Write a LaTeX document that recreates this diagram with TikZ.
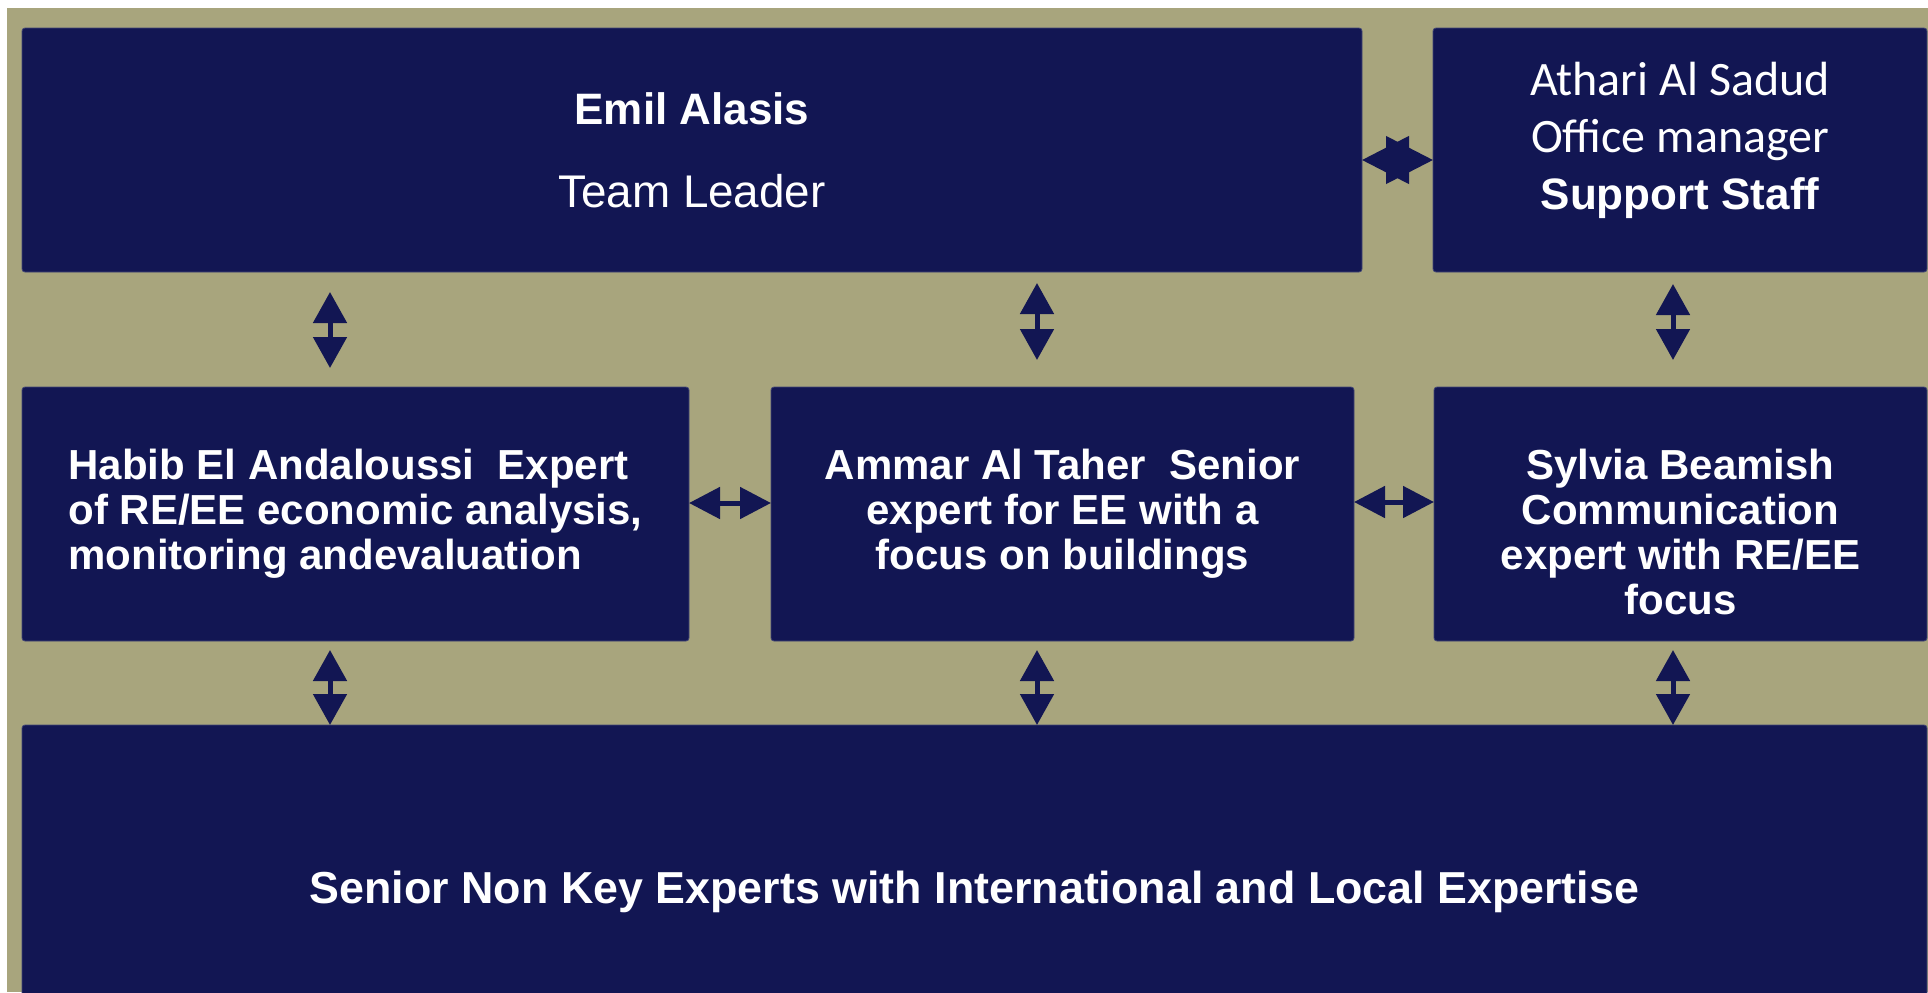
\documentclass[tikz,border=0pt]{standalone}
\usepackage{fontspec}
\setmainfont{Liberation Sans}
\newfontfamily\calibfont{Carlito}
\usetikzlibrary{arrows.meta,positioning}

\definecolor{boxblue}{RGB}{18,22,83}
\definecolor{bgolive}{RGB}{168,165,125}

\tikzset{
	box/.style={fill=boxblue, draw=boxblue!80!white, line width=0.4pt, rounded corners=1.5pt, inner sep=0pt, outer sep=0pt},
	txt/.style={text=white, align=center, inner sep=0pt, font=\fontsize{21}{22.5}\selectfont\bfseries},
	vlink/.style={boxblue, line width=2.5pt, {Triangle[length=15.5pt,width=16.5pt]}-{Triangle[length=15.5pt,width=16.5pt]}},
	hlink/.style={boxblue, line width=2.5pt, {Triangle[length=15.5pt,width=15.5pt]}-{Triangle[length=15.5pt,width=15.5pt]}},
	starlink/.style={boxblue, line width=2.5pt, {Triangle[length=23.5pt,width=23.5pt]}-{Triangle[length=23.5pt,width=23.5pt]}}
}

\begin{document}
\begin{tikzpicture}[x=0.5pt, y=-0.5pt]
	\useasboundingbox (0,0) rectangle (1928,992);
	\fill[bgolive] (7,8) rectangle (1928,992);

	% boxes
	\node[box, minimum width=670pt, minimum height=122pt] (lead) at (692,150) {};
	\node[box, minimum width=247pt, minimum height=122pt] (staff) at (1680,150) {};
	\node[box, minimum width=333.5pt, minimum height=127pt] (habib) at (355.5,514) {};
	\node[box, minimum width=291.5pt, minimum height=127pt] (ammar) at (1062.5,514) {};
	\node[box, minimum width=246.5pt, minimum height=127pt] (sylvia) at (1680.5,514) {};
	\node[box, minimum width=952.5pt, minimum height=140pt] (senior) at (974.5,865) {};

	% texts
	\node[txt, font=\fontsize{22}{41.5}\selectfont] (leadtxt) at (lead.center) {\textbf{Emil Alasis}\\\fontsize{22.9}{41.5}\selectfont Team Leader};
	\node[txt, font=\fontsize{24}{28.5}\selectfont] (stafftxt) at ([yshift=4.75pt]staff.center) {\calibfont Athari Al Sadud\\\calibfont Office manager\\\fontsize{22}{27.5}\selectfont\bfseries Support Staff};
	\node[txt, align=left] (habibtxt) at (habib.center) {Habib El Andaloussi\ \ Expert\\of RE/EE economic analysis,\\monitoring andevaluation};
	\node[txt] (ammartxt) at (ammar.center) {Ammar Al Taher\ \ Senior\\expert for EE with a\\focus on buildings};
	\node[txt] (sylviatxt) at ([yshift=-8.75pt]sylvia.center) {Sylvia Beamish\\Communication\\expert with RE/EE\\focus};
	\node[txt, font=\fontsize{22.4}{26}\selectfont\bfseries] (seniortxt) at (974.5,892) {Senior Non Key Experts with International and Local Expertise};

	% links
	\coordinate (c1) at (330,0);
	\coordinate (c2) at (1037,0);
	\coordinate (c3) at (1673,0);
	\draw[starlink] ([yshift=-5pt]lead.east) -- ([yshift=-5pt]staff.west);
	\draw[vlink, shorten <=10pt, shorten >=9.5pt] (lead.south -| c1) -- (habib.north -| c1);
	\draw[vlink, shorten <=5.5pt, shorten >=13.5pt] (lead.south -| c2) -- (ammar.north -| c2);
	\draw[vlink, shorten <=6pt, shorten >=13.5pt] (staff.south -| c3) -- (sylvia.north -| c3);
	\draw[hlink] ([yshift=5.5pt]habib.east) -- ([yshift=5.5pt]ammar.west);
	\draw[hlink] ([yshift=6pt]ammar.east) -- ([yshift=6pt]sylvia.west);
	\draw[vlink, shorten <=4.5pt] (habib.south -| c1) -- (senior.north -| c1);
	\draw[vlink, shorten <=4.5pt] (ammar.south -| c2) -- (senior.north -| c2);
	\draw[vlink, shorten <=4.5pt] (sylvia.south -| c3) -- (senior.north -| c3);
\end{tikzpicture}
\end{document}
